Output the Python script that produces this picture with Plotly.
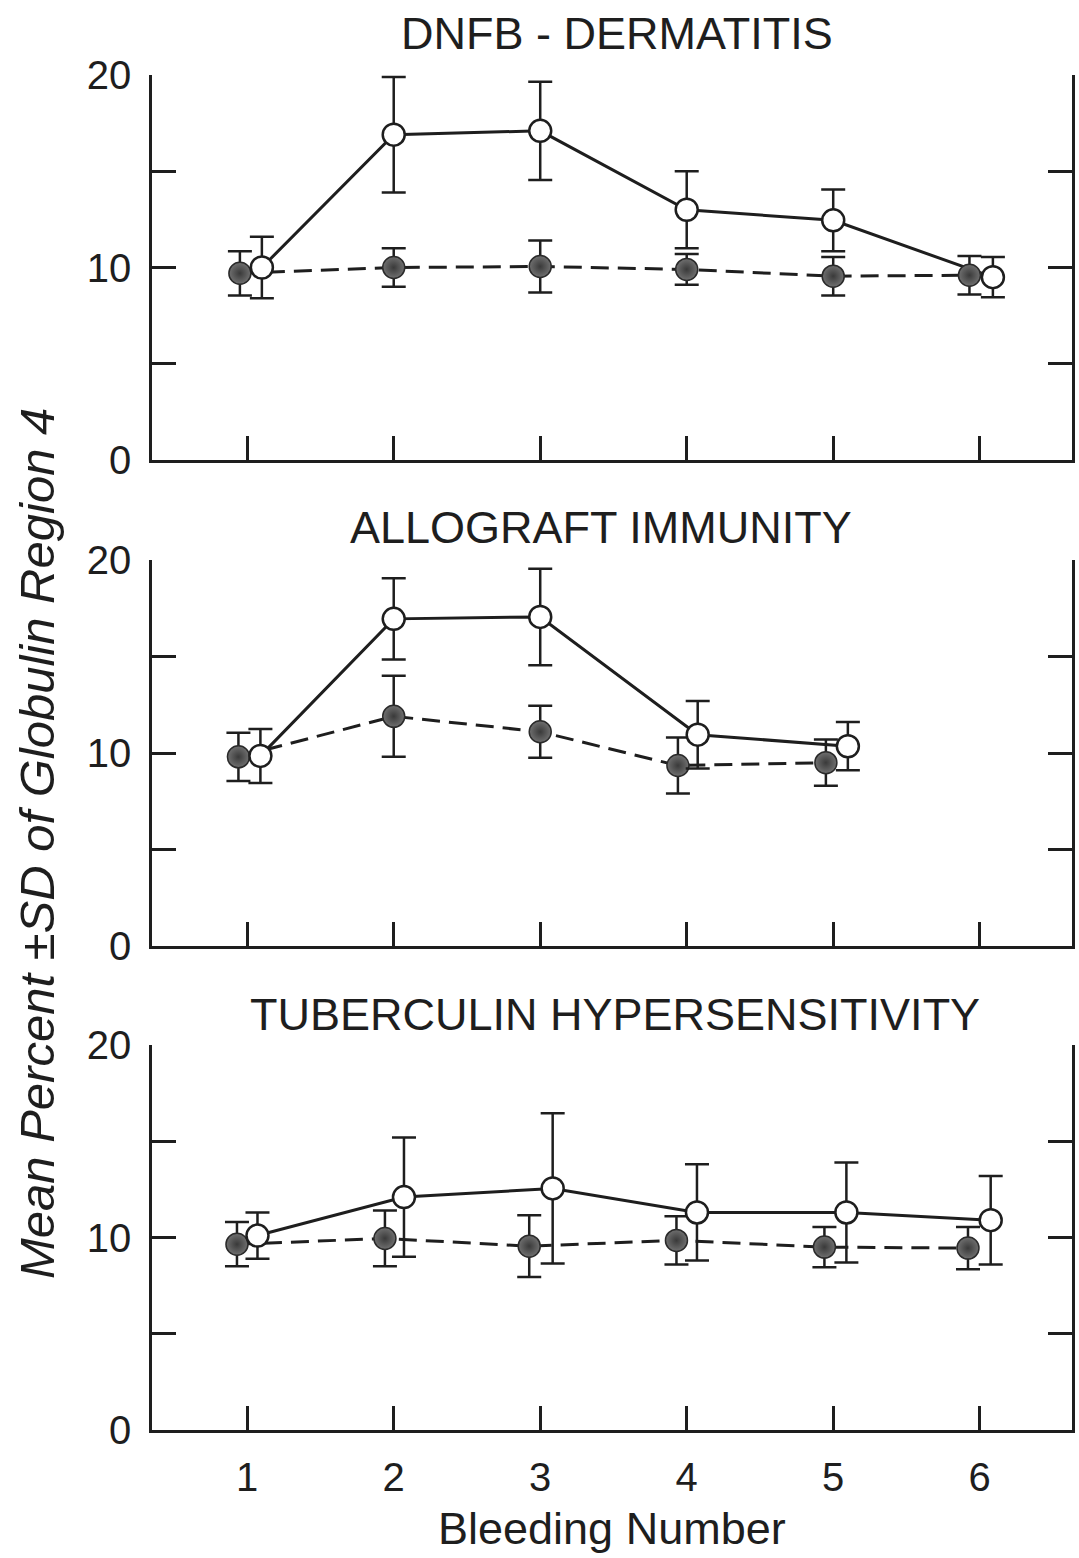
import plotly.graph_objects as go

# ---- data -------------------------------------------------------------
BLEEDINGS = [1, 2, 3, 4, 5, 6]
Y_TICKS = [0, 5, 10, 15, 20]
Y_TICK_TEXT = ["0", "", "10", "", "20"]

PANEL_TITLES = ["DNFB - DERMATITIS", "ALLOGRAFT IMMUNITY", "TUBERCULIN HYPERSENSITIVITY"]
X_TITLE = "Bleeding Number"
Y_TITLE = "Mean Percent ±SD of Globulin Region 4"

# DNFB dermatitis
dnfb_open_mean = [10.0, 16.9, 17.1, 13.0, 12.45, 9.5]
dnfb_open_sd = [1.6, 3.0, 2.55, 2.0, 1.6, 1.05]
dnfb_filled_mean = [9.7, 10.0, 10.05, 9.9, 9.55, 9.6]
dnfb_filled_sd = [1.15, 1.0, 1.35, 0.8, 1.0, 1.0]

# Allograft immunity (bleedings 1-5 only)
allo_open_mean = [9.85, 16.95, 17.05, 10.95, 10.35]
allo_open_sd = [1.4, 2.1, 2.5, 1.75, 1.25]
allo_filled_mean = [9.8, 11.9, 11.1, 9.35, 9.5]
allo_filled_sd = [1.25, 2.1, 1.35, 1.45, 1.2]

# Tuberculin hypersensitivity
tb_open_mean = [10.1, 12.1, 12.55, 11.3, 11.3, 10.9]
tb_open_sd = [1.2, 3.1, 3.9, 2.5, 2.6, 2.3]
tb_filled_mean = [9.65, 9.95, 9.55, 9.85, 9.5, 9.45]
tb_filled_sd = [1.15, 1.45, 1.6, 1.25, 1.05, 1.1]

# ---- styling / placement ----------------------------------------------
W, H = 1079, 1558
INK = "#1e1e1e"
FONT = "Liberation Sans"

# horizontal nudges so overlapping symbols stay readable
dodge = [
    {"filled": [-0.05, 0, 0, 0, 0, -0.07], "open": [0.10, 0, 0, 0, 0, 0.09]},
    {"filled": [-0.06, 0, 0, -0.06, -0.05], "open": [0.09, 0, 0, 0.075, 0.10]},
    {"filled": [-0.07, -0.06, -0.075, -0.07, -0.06, -0.08],
     "open": [0.07, 0.07, 0.085, 0.07, 0.09, 0.075]},
]

panels = [
    (dnfb_open_mean, dnfb_open_sd, dnfb_filled_mean, dnfb_filled_sd),
    (allo_open_mean, allo_open_sd, allo_filled_mean, allo_filled_sd),
    (tb_open_mean, tb_open_sd, tb_filled_mean, tb_filled_sd),
]

# plot boxes in pixels: (top, bottom)
boxes = [(75, 460), (560, 946), (1045, 1430)]
X_LEFT, X_RIGHT = 152, 1072
title_pos = [(617, 34), (601, 528), (615, 1014)]


def px_x(p):
    return p / W


def px_y(p):
    return 1 - p / H


fig = go.Figure()

for i, (om, osd, fm, fsd) in enumerate(panels):
    n = len(om)
    xs = BLEEDINGS[:n]
    xf = [x + d for x, d in zip(xs, dodge[i]["filled"])]
    xo = [x + d for x, d in zip(xs, dodge[i]["open"])]
    ax = "" if i == 0 else str(i + 1)
    xa, ya = "x" + ax, "y" + ax

    # connecting lines first, symbols on top
    fig.add_trace(go.Scatter(x=xf, y=fm, mode="lines", xaxis=xa, yaxis=ya,
                             line=dict(color=INK, width=3, dash="18px,9px"),
                             hoverinfo="skip", showlegend=False))
    fig.add_trace(go.Scatter(x=xo, y=om, mode="lines", xaxis=xa, yaxis=ya,
                             line=dict(color=INK, width=3),
                             hoverinfo="skip", showlegend=False))
    fig.add_trace(go.Scatter(
        x=xf, y=fm, mode="markers", xaxis=xa, yaxis=ya, showlegend=False,
        error_y=dict(type="data", array=fsd, visible=True, color=INK,
                     thickness=2.5, width=12),
        marker=dict(size=22, color="#707070",
                    gradient=dict(type="radial", color="#3a3a3a"),
                    line=dict(color="#2a2a2a", width=1.5))))
    fig.add_trace(go.Scatter(
        x=xo, y=om, mode="markers", xaxis=xa, yaxis=ya, showlegend=False,
        error_y=dict(type="data", array=osd, visible=True, color=INK,
                     thickness=2.5, width=12),
        marker=dict(size=22, color="white", line=dict(color=INK, width=2.5))))

    top, bottom = boxes[i]
    last = i == 2
    fig.layout["xaxis" + ax] = dict(
        domain=[px_x(X_LEFT), px_x(X_RIGHT)], anchor=ya, range=[0.35, 6.63],
        tickvals=BLEEDINGS, ticktext=[str(b) for b in BLEEDINGS],
        ticks="inside", ticklen=24, tickwidth=2.5, tickcolor=INK,
        showline=True, linewidth=2.5, linecolor=INK, mirror=False,
        showgrid=False, zeroline=False, showticklabels=last,
        automargin=False, ticklabelstandoff=10,
        tickfont=dict(family=FONT, size=40, color=INK),
    )
    fig.layout["yaxis" + ax] = dict(
        domain=[px_y(bottom), px_y(top)], anchor=xa, range=[0, 20],
        tickvals=Y_TICKS, ticktext=Y_TICK_TEXT,
        ticks="inside", ticklen=24, tickwidth=2.5, tickcolor=INK,
        showline=True, linewidth=2.5, linecolor=INK, mirror="ticks",
        showgrid=False, zeroline=False, automargin=False, ticklabelstandoff=10,
        tickfont=dict(family=FONT, size=40, color=INK),
    )

    tx, ty = title_pos[i]
    fig.add_annotation(text=PANEL_TITLES[i], xref="paper", yref="paper",
                       x=px_x(tx), y=px_y(ty), xanchor="center", yanchor="middle",
                       showarrow=False, font=dict(family=FONT, size=45, color=INK))

fig.add_annotation(text=X_TITLE, xref="paper", yref="paper",
                   x=px_x(612), y=px_y(1528), xanchor="center", yanchor="middle",
                   showarrow=False, font=dict(family=FONT, size=45, color=INK))
fig.add_annotation(text=Y_TITLE, xref="paper", yref="paper",
                   x=px_x(37), y=px_y(844), xanchor="center", yanchor="middle",
                   textangle=-90, showarrow=False,
                   font=dict(family=FONT, size=49, color=INK, style="italic"))

fig.update_layout(
    width=W, height=H, autosize=False,
    margin=dict(l=0, r=0, t=0, b=0, pad=0, autoexpand=False),
    paper_bgcolor="white", plot_bgcolor="white",
)

fig.write_html("out.html")
